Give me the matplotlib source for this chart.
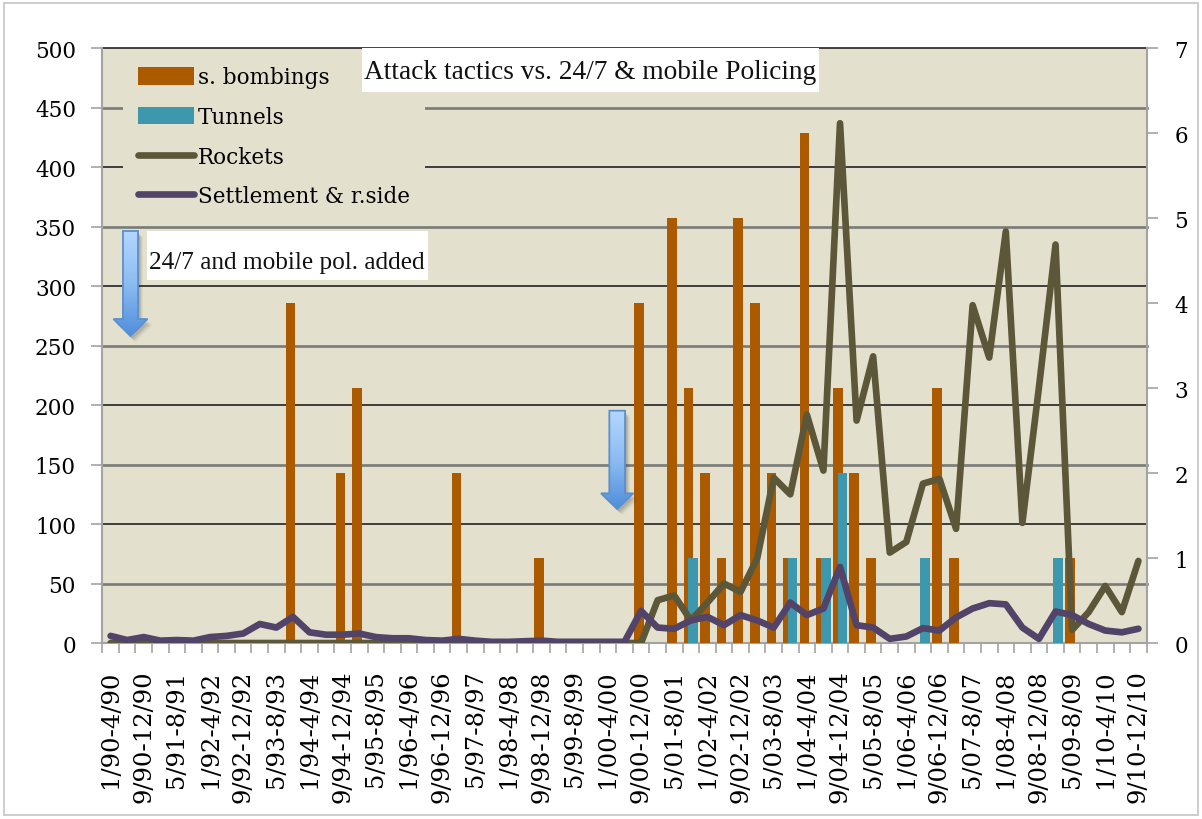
import numpy as np
import matplotlib
matplotlib.use("Agg")
import matplotlib.pyplot as plt
import matplotlib.transforms as mtransforms
from matplotlib.patches import Patch, Rectangle, Polygon
from matplotlib.lines import Line2D
from matplotlib.colors import LinearSegmentedColormap

# ---------------------------------------------------------------- data
periods = [
    "1/90-4/90", "5/90-8/90", "9/90-12/90",
    "1/91-4/91", "5/91-8/91", "9/91-12/91",
    "1/92-4/92", "5/92-8/92", "9/92-12/92",
    "1/93-4/93", "5/93-8/93", "9/93-12/93",
    "1/94-4/94", "5/94-8/94", "9/94-12/94",
    "1/95-4/95", "5/95-8/95", "9/95-12/95",
    "1/96-4/96", "5/96-8/96", "9/96-12/96",
    "1/97-4/97", "5/97-8/97", "9/97-12/97",
    "1/98-4/98", "5/98-8/98", "9/98-12/98",
    "1/99-4/99", "5/99-8/99", "9/99-12/99",
    "1/00-4/00", "5/00-8/00", "9/00-12/00",
    "1/01-4/01", "5/01-8/01", "9/01-12/01",
    "1/02-4/02", "5/02-8/02", "9/02-12/02",
    "1/03-4/03", "5/03-8/03", "9/03-12/03",
    "1/04-4/04", "5/04-8/04", "9/04-12/04",
    "1/05-4/05", "5/05-8/05", "9/05-12/05",
    "1/06-4/06", "5/06-8/06", "9/06-12/06",
    "1/07-4/07", "5/07-8/07", "9/07-12/07",
    "1/08-4/08", "5/08-8/08", "9/08-12/08",
    "1/09-4/09", "5/09-8/09", "9/09-12/09",
    "1/10-4/10", "5/10-8/10", "9/10-12/10",
]
shown_labels = periods[::2]

# suicide bombings per period (right axis)
bombings = [0, 0, 0, 0, 0, 0, 0, 0, 0, 0,
            0, 4, 0, 0, 2, 3, 0, 0, 0, 0,
            0, 2, 0, 0, 0, 0, 1, 0, 0, 0,
            0, 0, 4, 0, 5, 3, 2, 1, 5, 4,
            2, 1, 6, 1, 3, 2, 1, 0, 0, 0,
            3, 1, 0, 0, 0, 0, 0, 0, 1, 0,
            0, 0, 0]

# tunnel attacks per period (right axis)
tunnels = [0, 0, 0, 0, 0, 0, 0, 0, 0, 0,
           0, 0, 0, 0, 0, 0, 0, 0, 0, 0,
           0, 0, 0, 0, 0, 0, 0, 0, 0, 0,
           0, 0, 0, 0, 0, 1, 0, 0, 0, 0,
           0, 1, 0, 1, 2, 0, 0, 0, 0, 1,
           0, 0, 0, 0, 0, 0, 0, 1, 0, 0,
           0, 0, 0]

# rockets per period (left axis)
rockets = [0, 0, 0, 0, 0, 0, 0, 0, 0, 0,
           0, 0, 0, 0, 0, 0, 0, 0, 0, 0,
           0, 0, 0, 0, 0, 0, 0, 0, 0, 0,
           0, 0, 0, 36, 40, 19, 34, 50, 43, 71,
           139, 125, 192, 145, 437, 187, 241, 76, 85, 134,
           138, 96, 284, 240, 346, 101, 215, 335, 11, 26,
           48, 26, 69]

# settlement & roadside attacks per period (left axis)
settlement = [6, 2.5, 5, 2, 2.5, 2, 5, 6, 8, 16,
              13, 22, 9, 7, 7, 8, 5, 4, 4, 2.5,
              2, 3.5, 2, 1, 1, 1.5, 2, 1, 1, 1,
              1, 1, 27, 13, 12, 19, 22, 15, 23.5, 19,
              13, 34, 23.5, 29, 64, 15, 13, 3.5, 5.5, 12.5,
              10.5, 21.5, 29, 33.5, 32.5, 13, 3.5, 26.5, 23.5, 16,
              10.5, 9, 12]

series_names = ["s. bombings", "Tunnels", "Rockets", "Settlement & r.side"]
title_text = "Attack tactics vs. 24/7 & mobile Policing"
note_text = "24/7 and mobile pol. added"

# ---------------------------------------------------------------- style
BG = "#e3e0ce"
BOMB = "#ab5a00"
TUN = "#3d97ad"
ROCK = "#5d5739"
SETT = "#524469"
AXIS_GREY = "#a3a3a3"
FS = 15.5
LW = 4.8

plt.rcParams["font.family"] = ["DejaVu Serif"]

fig = plt.figure(figsize=(12.02, 8.20), dpi=100)
rect = [0.0851, 0.2146, 0.8689, 0.7253]

ax = fig.add_axes(rect, zorder=0)                              # grid + left scale
axr = fig.add_axes(rect, sharex=ax, zorder=1)                   # bars, right scale
axl = fig.add_axes(rect, sharex=ax, sharey=ax, zorder=2)        # lines, left scale
axo = fig.add_axes(rect, zorder=3)                              # annotations

x = np.arange(len(periods))

# ---- base axes: background, grid, left and bottom axes
ax.set_facecolor(BG)
ax.set_xlim(-0.5, len(periods) - 0.5)
ax.set_ylim(0, 500)
yt = np.arange(0, 501, 50)
ax.set_yticks(yt)
ax.yaxis.grid(True)
ax.set_axisbelow(True)
for v, t in zip(yt, ax.yaxis.get_major_ticks()):
    if v == 0:
        t.gridline.set_visible(False)
    elif v % 100 == 0:
        t.gridline.set_color("#111111")
        t.gridline.set_linewidth(1.1)
    else:
        t.gridline.set_color("#7a7a78")
        t.gridline.set_linewidth(1.9)
    t.gridline.set_clip_on(False)

ax.set_xticks(x[::2])
ax.set_xticklabels(shown_labels, rotation=90, fontsize=17.5)
ax.set_xticks(np.arange(-0.5, len(periods), 1), minor=True)
ax.tick_params(axis="x", which="major", length=0, pad=19)
ax.tick_params(axis="x", which="minor", length=7, width=1.2, color=AXIS_GREY)
ax.tick_params(axis="y", length=8, width=1.2, color=AXIS_GREY, labelsize=FS, pad=11)
for s in ("top", "right"):
    ax.spines[s].set_visible(False)
for s in ("left", "bottom"):
    ax.spines[s].set_color(AXIS_GREY)
    ax.spines[s].set_linewidth(1.5)

# ---- bar axes (right scale)
axr.patch.set_visible(False)
axr.set_ylim(0, 7)
axr.yaxis.tick_right()
axr.set_yticks(range(8))
axr.tick_params(axis="y", length=8, width=1.2, color=AXIS_GREY, labelsize=FS, pad=12)
axr.xaxis.set_visible(False)
for s in ("top", "left", "bottom"):
    axr.spines[s].set_visible(False)
axr.spines["right"].set_color(AXIS_GREY)
axr.spines["right"].set_linewidth(1.5)

bw = 0.58
axr.bar(x - 0.14, bombings, width=bw, color=BOMB, linewidth=0)
axr.bar(x + 0.14, tunnels, width=bw, color=TUN, linewidth=0)

# ---- line axes (left scale)
axl.patch.set_visible(False)
axl.axis("off")
line_kw = dict(lw=LW, solid_joinstyle="round", solid_capstyle="round")
axl.plot(x, rockets, color=ROCK, **line_kw)
axl.plot(x, settlement, color=SETT, **line_kw)

handles = [Patch(facecolor=BOMB, edgecolor="none"),
           Patch(facecolor=TUN, edgecolor="none"),
           Line2D([], [], color=ROCK, lw=LW, solid_capstyle="round"),
           Line2D([], [], color=SETT, lw=LW, solid_capstyle="round")]
leg = axl.legend(handles, series_names, loc="upper left",
                 bbox_to_anchor=(0.0197, 0.995), borderaxespad=0,
                 frameon=True, fancybox=False, facecolor=BG, edgecolor="none",
                 framealpha=1, fontsize=FS, handlelength=2.6, handleheight=0.88,
                 handletextpad=0.2, labelspacing=0.82, borderpad=0.7)
leg.set_zorder(10)

# ---- annotation layer (axes-fraction coordinates)
axo.set_autoscale_on(False)
axo.set_xlim(0, 1)
axo.set_ylim(0, 1)
axo.axis("off")

# title box
axo.add_patch(Rectangle((0.249, 0.927), 0.4372, 0.073, facecolor="white",
                        edgecolor="none", zorder=5, clip_on=False))
axo.text(0.4675, 0.9495, title_text, ha="center", va="baseline",
         fontsize=19.7, family="Liberation Serif", color="#111111", zorder=6)

# note box
axo.add_patch(Rectangle((0.0425, 0.6104), 0.2694, 0.0829, facecolor="white",
                        edgecolor="none", zorder=5))
axo.text(0.0447, 0.630, note_text, ha="left", va="baseline",
         fontsize=18.2, family="Liberation Serif", color="#111111", zorder=6)

ARROW_CMAP = LinearSegmentedColormap.from_list("arrow", ["#b4d7fd", "#8dbcf2", "#4f8edb"])


def blue_arrow(xc, y_top, y_neck, y_tip, shaft_w, head_w):
    verts = [(xc - shaft_w / 2, y_top), (xc + shaft_w / 2, y_top),
             (xc + shaft_w / 2, y_neck), (xc + head_w / 2, y_neck),
             (xc, y_tip), (xc - head_w / 2, y_neck), (xc - shaft_w / 2, y_neck)]
    # soft drop shadow
    for dx, dy, a in [(5, -6, 0.05), (4, -5, 0.07), (3, -4, 0.09), (2, -3, 0.10)]:
        tr = mtransforms.offset_copy(axo.transData, fig=fig, x=dx, y=dy, units="dots")
        axo.add_patch(Polygon(verts, closed=True, facecolor="#303030",
                              edgecolor="none", alpha=a, transform=tr, zorder=4))
    outline = Polygon(verts, closed=True, facecolor="none", edgecolor="#5d8ecd",
                      lw=1.3, zorder=6)
    axo.add_patch(outline)
    grad = np.linspace(0, 1, 256).reshape(-1, 1)
    im = axo.imshow(grad, cmap=ARROW_CMAP, extent=(xc - head_w / 2, xc + head_w / 2, y_tip, y_top),
                    aspect="auto", interpolation="bilinear", zorder=5)
    im.set_clip_path(outline)


blue_arrow(0.027, 0.6928, 0.5448, 0.5162, 0.0144, 0.0326)
blue_arrow(0.493, 0.3906, 0.2517, 0.2253, 0.0150, 0.0310)
axo.set_xlim(0, 1)
axo.set_ylim(0, 1)

# light frame around the whole figure
fig.patches.append(Rectangle((4 / 1202, 4 / 820), 1194 / 1202, 812 / 820,
                             transform=fig.transFigure, fill=False,
                             edgecolor="#c9c9c9", lw=1.3))

fig.savefig("out.png", dpi=100)
